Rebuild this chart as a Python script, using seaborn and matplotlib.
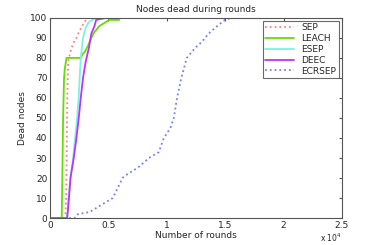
import numpy as np
import pandas as pd
import matplotlib
matplotlib.use("Agg")
import matplotlib.pyplot as plt
import seaborn as sns

# rounds / dead nodes
sep_x = [0, 1300, 1380, 1420, 1480, 1550, 1700, 1840, 2050, 2260, 2480, 2680, 2950, 3250, 20000]
sep_y = [0, 0, 10, 30, 60, 78, 82, 85, 88, 90, 93, 95, 98, 100, 100]

leach_x = [0, 1000, 1050, 1120, 1200, 1270, 1410, 2630, 2800, 2970, 3250, 3530, 3810, 4240, 4800, 5085, 5930]
leach_y = [0, 0, 20, 50, 70, 75, 80, 80, 82, 83, 86, 90, 93, 96, 98, 99, 99]

esep_x = [0, 1500, 1550, 1750, 1980, 2150, 2320, 2450, 2540, 2630, 2825, 3050, 3330, 3950, 20000]
esep_y = [0, 0, 8, 20, 30, 40, 50, 60, 70, 80, 90, 95, 98, 100, 100]

deec_x = [0, 1450, 1550, 1650, 1750, 2030, 2260, 2460, 2630, 2825, 3050, 3330, 3530, 3810, 3950, 4800, 15000]
deec_y = [0, 0, 5, 12, 20, 30, 40, 50, 60, 70, 78, 85, 92, 96, 99, 100, 100]

ecrsep_x = [0, 2120, 2400, 3390, 3950, 4800, 5370, 5790, 6215, 6640, 7490, 8475, 9320, 9750, 10310, 10600,
            10880, 11240, 11720, 12430, 13000, 13560, 14130, 14550, 14970, 15540, 20000]
ecrsep_y = [0, 0, 2, 3, 5, 8, 10, 15, 20, 22, 25, 30, 33, 40, 45, 50,
            60, 70, 80, 85, 88, 92, 95, 97, 99, 100, 100]

series = [
    ("SEP", sep_x, sep_y, "#ff8080", ":"),
    ("LEACH", leach_x, leach_y, "#66dd00", "-"),
    ("ESEP", esep_x, esep_y, "#80f0e0", "-"),
    ("DEEC", deec_x, deec_y, "#bb33ff", "-"),
    ("ECRSEP", ecrsep_x, ecrsep_y, "#7080ff", ":"),
]

sns.set_style("white")
plt.rcParams['font.family'] = ['DejaVu Sans']

fig = plt.figure(figsize=(3.82, 2.45), dpi=100)
ax = fig.add_axes([0.131, 0.110, 0.764, 0.817])

for name, xs, ys, col, ls in series:
    sns.lineplot(x=xs, y=ys, ax=ax, color=col, linestyle=ls, linewidth=1.3,
                 label=name, sort=False)

ax.set_xlim(0, 25000)
ax.set_ylim(0, 100)
ax.set_xticks([0, 5000, 10000, 15000, 20000, 25000])
ax.set_xticklabels(["0", "0.5", "1", "1.5", "2", "2.5"])
ax.set_yticks(range(0, 101, 10))
ax.tick_params(direction="in", length=2.5, labelsize=6.5, top=True, right=True,
               pad=2, color="#555555")
for s in ax.spines.values():
    s.set_color("#555555")
    s.set_linewidth(0.8)

ax.set_xlabel("Number of rounds", fontsize=6.5, labelpad=1)
ax.set_ylabel("Dead nodes", fontsize=6.5, labelpad=2)
ax.set_title("Nodes dead during rounds", fontsize=6.5, pad=4)
ax.text(1.0, -0.10, "x 10$^4$", transform=ax.transAxes, fontsize=5.5, ha="right", va="center")

leg = ax.legend(loc="upper right", fontsize=6.5, frameon=True, fancybox=False,
                borderpad=0.3, labelspacing=0.2, handlelength=3.2, borderaxespad=0.3)
leg.get_frame().set_edgecolor("#444444")
leg.get_frame().set_linewidth(0.8)

fig.savefig("out.png", dpi=100)
